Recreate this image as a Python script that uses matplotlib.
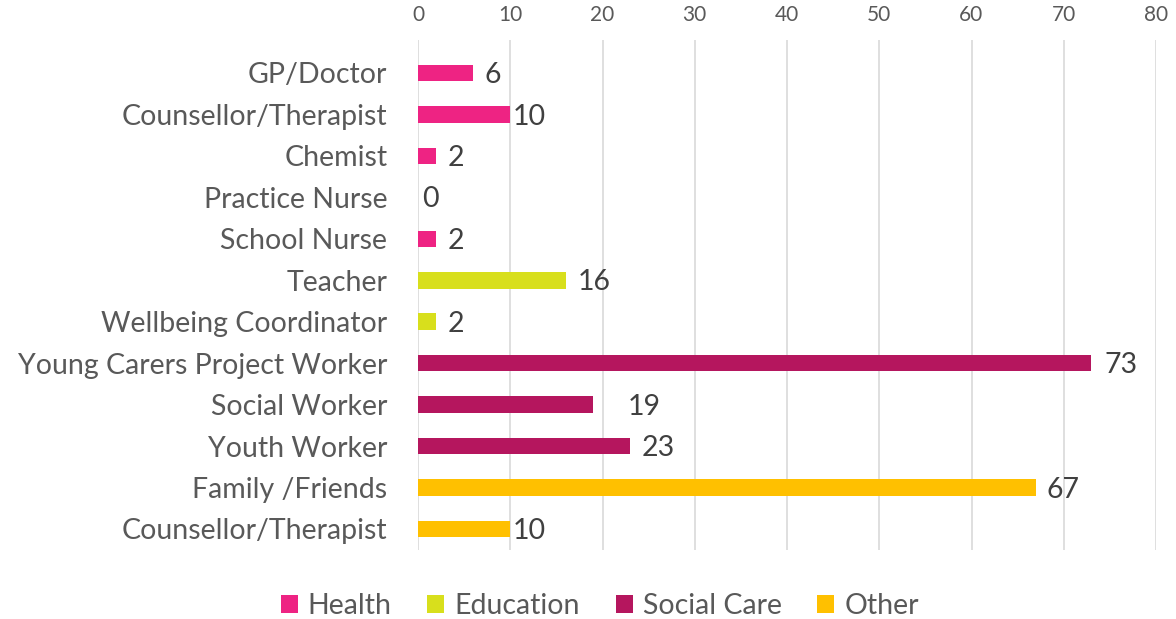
import matplotlib
matplotlib.use("Agg")
import matplotlib.pyplot as plt
from matplotlib.patches import Patch

# ---------- Data ----------
CATEGORIES = [
    "GP/Doctor", "Counsellor/Therapist", "Chemist", "Practice Nurse",
    "School Nurse", "Teacher", "Wellbeing Coordinator",
    "Young Carers Project Worker", "Social Worker", "Youth Worker",
    "Family /Friends", "Counsellor/Therapist",
]
VALUES = [6, 10, 2, 0, 2, 16, 2, 73, 19, 23, 67, 10]
GROUPS = ["Health", "Health", "Health", "Health", "Health",
          "Education", "Education",
          "Social Care", "Social Care", "Social Care",
          "Other", "Other"]
GROUP_ORDER = ["Health", "Education", "Social Care", "Other"]
XTICKS = [0, 10, 20, 30, 40, 50, 60, 70, 80]

# ---------- Style ----------
PALETTE = {
    "Health": "#EE2383",
    "Education": "#D8DF1C",
    "Social Care": "#B5165E",
    "Other": "#FFC000",
}
LABEL_OFFSETS = [11, 2, 11, 4, 11, 12, 11, 13, 34, 11, 10, 2]  # px, as in source
TXT = "#595959"
VAL_TXT = "#404040"
FS = 20.5

plt.rcParams["font.family"] = ["Lato", "DejaVu Sans"]

W, H = 1176, 619
fig = plt.figure(figsize=(W / 100, H / 100), dpi=100)
ax = fig.add_axes([418 / W, 1 - 550 / H, (1156 - 418) / W, 510 / H])

y = list(range(len(CATEGORIES)))
colors = [PALETTE[g] for g in GROUPS]
ax.barh(y, VALUES, height=0.4, color=colors, zorder=3)

ax.set_xlim(0, 80)
ax.set_ylim(11.507, -0.796)
ax.set_xticks(XTICKS)
ax.set_yticks(y)
ax.set_yticklabels(CATEGORIES, fontsize=FS, color=TXT)
ax.xaxis.tick_top()
ax.tick_params(axis="x", length=0, labelsize=15, labelcolor=TXT, pad=11)
ax.tick_params(axis="y", length=0, pad=22)
ax.grid(axis="x", color="#D9D9D9", linewidth=1.2, zorder=0)
for s in ax.spines.values():
    s.set_visible(False)

px = 80 / (1156 - 418)
for yi, v, off in zip(y, VALUES, LABEL_OFFSETS):
    ax.text(v + off * px, yi + 0.05, str(v), va="center", ha="left",
            fontsize=FS, color=VAL_TXT)

handles = [Patch(facecolor=PALETTE[g], edgecolor="none", label=g) for g in GROUP_ORDER]
leg = fig.legend(handles=handles, loc="center", bbox_to_anchor=(0.51, 1 - 606 / H),
                 ncol=4, frameon=False, fontsize=FS, handlelength=0.6,
                 handleheight=0.6, handletextpad=0.35, columnspacing=1.25)
for t in leg.get_texts():
    t.set_color(TXT)

fig.savefig("out.png", dpi=100)
